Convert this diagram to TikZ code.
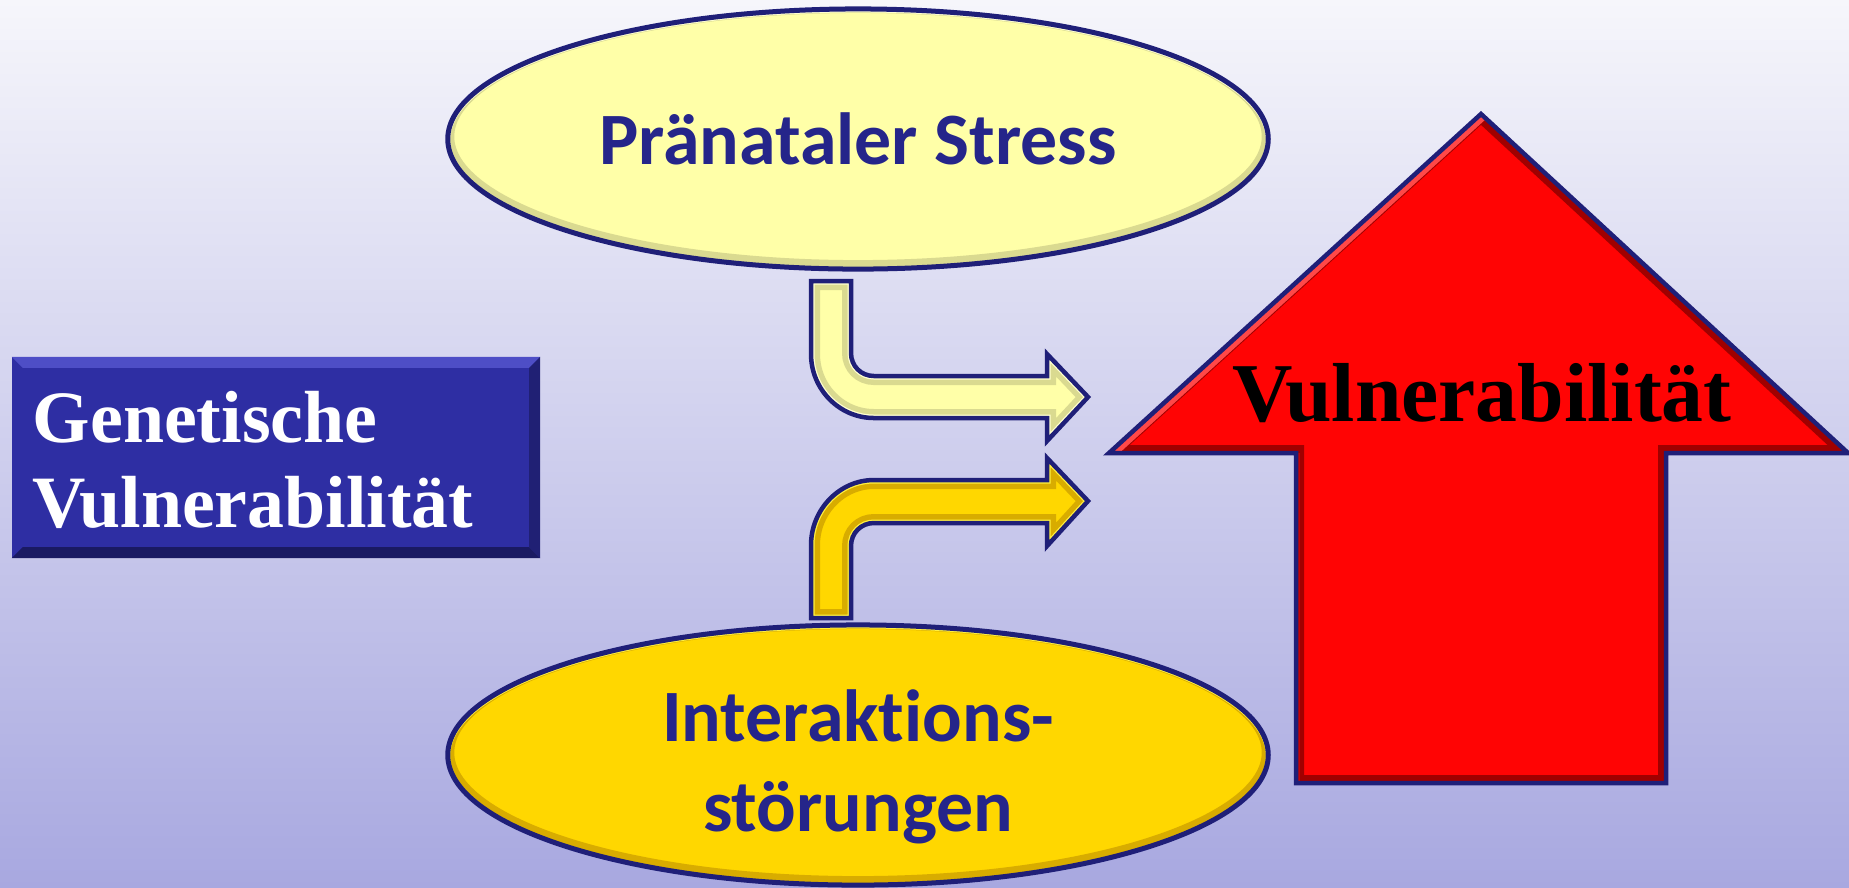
\documentclass[tikz,border=0pt]{standalone}
\usepackage{fontspec}
\setmainfont{Liberation Serif}
\newfontfamily\carlito[Ligatures={NoCommon}]{Carlito}
\usetikzlibrary{shapes.geometric}
\definecolor{bgtop}{HTML}{F6F6FB}
\definecolor{bgbot}{HTML}{A8A8E0}
\definecolor{navy}{HTML}{1F1F78}
\definecolor{textblue}{HTML}{25258A}
\definecolor{boxblue}{HTML}{2E2EA3}
\definecolor{boxlight}{HTML}{4E4EC6}
\definecolor{boxdark}{HTML}{1A1A62}
\definecolor{boxright}{HTML}{202074}
\definecolor{lyellow}{HTML}{FFFFA8}
\definecolor{lyellowdark}{HTML}{DADA90}
\definecolor{lyellowrim}{HTML}{FFFFD0}
\definecolor{gold}{HTML}{FFD700}
\definecolor{golddark}{HTML}{D8AC00}
\definecolor{goldrim}{HTML}{FFF040}
\definecolor{arrred}{HTML}{FF0404}
\definecolor{arrreddark}{HTML}{A00000}
\definecolor{arrredlight}{HTML}{FF4848}
\def\pathTop{(811,281) -- (851,281) -- (851,353) .. controls (851,366) and (861,376) .. (874,376) -- (1047,376) -- (1047,354) -- (1088,397) -- (1047,441) -- (1047,418) -- (874,418) .. controls (839,418) and (811,389) .. (811,354) -- cycle}
\def\pathBot{(811,618) -- (811,545) .. controls (811,510) and (839,480) .. (874,480) -- (1047,480) -- (1047,458) -- (1088,501) -- (1047,546) -- (1047,523) -- (874,523) .. controls (861,523) and (851,533) .. (851,546) -- (851,618) -- cycle}
\def\pathRed{(1481,114) -- (1848,453) -- (1666,453) -- (1666,783) -- (1296,783) -- (1296,453) -- (1109,453) -- cycle}
\tikzset{
  ellbox/.style n args={3}{ellipse, minimum width=8.2cm, minimum height=2.6cm, inner sep=0pt,
    fill=#1, draw=navy, line width=0.05cm,
    path picture={
      \draw[line width=0.13cm, #2] ([yshift=0.025cm]path picture bounding box.center) ellipse [x radius=4.1cm, y radius=1.3cm];
      \draw[line width=0.05cm, #3] ([yshift=-0.01cm]path picture bounding box.center) ellipse [x radius=4.1cm, y radius=1.3cm];
    }},
  elltext/.style={text=textblue, font=\carlito\bfseries\fontsize{21}{25.6}\selectfont, align=center, inner sep=0pt},
  genbox/.style={rectangle, minimum width=5.28cm, minimum height=2.01cm, inner sep=0pt, fill=boxblue,
    path picture={
      \fill[boxlight] (path picture bounding box.north west) -- (path picture bounding box.north east) -- ([xshift=-0.11cm,yshift=-0.11cm]path picture bounding box.north east) -- ([xshift=0.11cm,yshift=-0.11cm]path picture bounding box.north west) -- cycle;
      \fill[boxdark] (path picture bounding box.south west) -- (path picture bounding box.south east) -- ([xshift=-0.11cm,yshift=0.11cm]path picture bounding box.south east) -- ([xshift=0.11cm,yshift=0.11cm]path picture bounding box.south west) -- cycle;
      \fill[boxright] (path picture bounding box.north east) -- (path picture bounding box.south east) -- ([xshift=-0.11cm,yshift=0.11cm]path picture bounding box.south east) -- ([xshift=-0.11cm,yshift=-0.11cm]path picture bounding box.north east) -- cycle;
    }},
  gentext/.style={text=white, font=\bfseries\fontsize{21}{24.2}\selectfont, align=left, inner sep=0pt},
  vultext/.style={text=black, font=\bfseries\fontsize{23.8}{28}\selectfont, inner sep=0pt},
  outline/.style={draw=navy, line width=0.045cm, line join=miter}
}
\begin{document}
\begin{tikzpicture}[x=0.01cm, y=-0.01cm]
\useasboundingbox (0,0) rectangle (1849,887);
\shade[top color=bgtop, bottom color=bgbot] (0,0) rectangle (1849,887);

% ellipses
\node[ellbox={lyellow}{lyellowdark}{lyellowrim}, elltext] (pre) at (858,139) {Pränataler Stress};
\node[ellbox={gold}{golddark}{goldrim}] (inter) at (858,755) {};
\node[elltext] (intertext) at (858,767) {Interaktions-\\störungen};

% genetic box
\node[genbox] (gen) at (276,457.5) {};
\node[gentext, anchor=west] (gentxt) at ([xshift=0.21cm,yshift=-0.02cm]gen.west) {Genetische\\Vulnerabilität};

% bent arrows
\fill[lyellow] \pathTop;
\begin{scope}
  \clip \pathTop;
  \draw[line width=0.18cm, lyellowdark] \pathTop;
  \draw[line width=0.07cm, lyellowrim] \pathTop;
\end{scope}
\draw[outline] \pathTop;

\fill[gold] \pathBot;
\begin{scope}
  \clip \pathBot;
  \draw[line width=0.18cm, golddark] \pathBot;
  \draw[line width=0.07cm, goldrim] \pathBot;
\end{scope}
\draw[outline] \pathBot;

% red arrow
\fill[arrred] \pathRed;
\begin{scope}
  \clip \pathRed;
  \draw[line width=0.16cm, arrreddark] \pathRed;
  \draw[line width=0.14cm, arrredlight] (1109,453) -- (1481,114);
  \draw[line width=0.08cm, arrreddark!60!arrred] (1296,453) -- (1296,783);
\end{scope}
\draw[outline] \pathRed;
\node[vultext, anchor=base] (vul) at (1482,421) {Vulnerabilität};
\end{tikzpicture}
\end{document}
